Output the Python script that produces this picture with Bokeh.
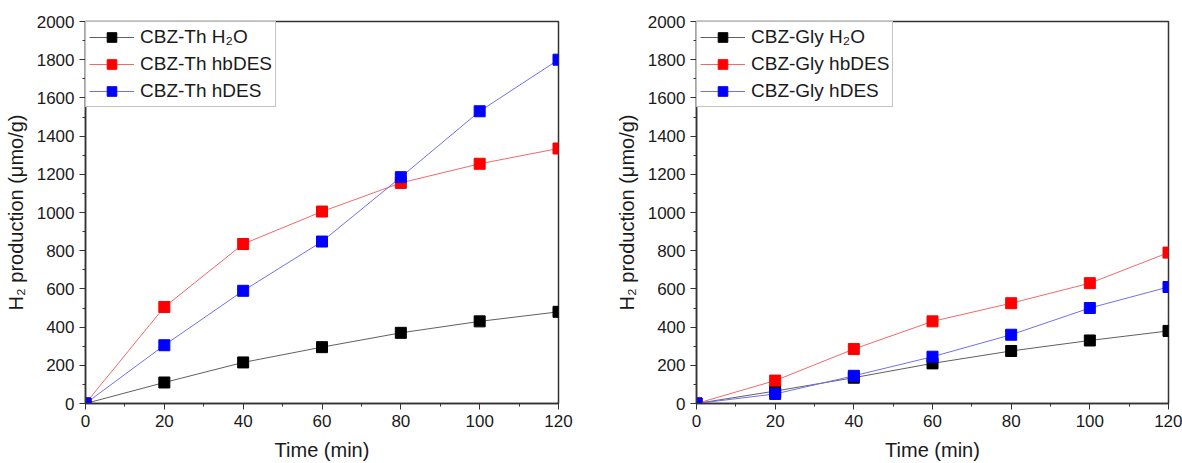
from bokeh.plotting import figure
from bokeh.layouts import row
from bokeh.models import SingleIntervalTicker, Range1d, Legend, LegendItem
from bokeh.embed import file_html
from bokeh.resources import INLINE

time = [0, 20, 40, 60, 80, 100, 120]

th_h2o = [0, 110, 215, 295, 370, 430, 480]
th_hbdes = [0, 505, 835, 1005, 1155, 1255, 1335]
th_hdes = [0, 305, 590, 848, 1185, 1530, 1800]

gly_h2o = [0, 65, 135, 210, 275, 330, 380]
gly_hbdes = [0, 120, 285, 430, 525, 630, 790]
gly_hdes = [0, 50, 145, 245, 360, 500, 610]

labels_th = ["CBZ-Th H\u2082O", "CBZ-Th hbDES", "CBZ-Th hDES"]
labels_gly = ["CBZ-Gly H\u2082O", "CBZ-Gly hbDES", "CBZ-Gly hDES"]

FONT = "Liberation Sans"
marker_colors = ["#000000", "#ff0000", "#0000ff"]
line_colors = ["#606060", "#f06a6a", "#7070f0"]


def make_panel(series, labels, border_left, border_right):
    p = figure(width=591, height=463, output_backend="svg", toolbar_location=None,
               x_range=Range1d(0, 120), y_range=Range1d(0, 2000),
               min_border_left=border_left, min_border_right=border_right,
               min_border_top=21, min_border_bottom=60)
    p.grid.visible = False
    p.outline_line_color = "#333333"
    p.outline_line_width = 1.5
    p.background_fill_color = "white"
    p.border_fill_color = "white"

    p.xaxis.ticker = SingleIntervalTicker(interval=20, num_minor_ticks=2)
    p.yaxis.ticker = SingleIntervalTicker(interval=200, num_minor_ticks=2)
    for ax in (p.xaxis[0], p.yaxis[0]):
        ax.major_tick_in = 0
        ax.major_tick_out = 6
        ax.minor_tick_in = 0
        ax.minor_tick_out = 3
        ax.axis_line_width = 1.5
        ax.axis_line_color = "#333333"
        ax.major_tick_line_color = "#333333"
        ax.minor_tick_line_color = "#333333"
        ax.major_label_text_font = FONT
        ax.major_label_text_font_size = "17px"
        ax.major_label_text_color = "#1a1a1a"
        ax.axis_label_text_font = FONT
        ax.axis_label_text_font_size = "20px"
        ax.axis_label_text_font_style = "normal"
        ax.axis_label_text_color = "#1a1a1a"
    p.xaxis.axis_label = "Time (min)"
    p.yaxis.axis_label = "H\u2082 production (\u03bcmo/g)"
    p.xaxis.axis_label_standoff = 9
    p.yaxis.axis_label_standoff = 7

    items = []
    for ys, lab, mc, lc in zip(series, labels, marker_colors, line_colors):
        l = p.line(time, ys, line_color=lc, line_width=1)
        s = p.scatter(time, ys, marker="square", size=11, fill_color=mc, line_color=mc)
        items.append(LegendItem(label=lab, renderers=[l, s]))

    legend = Legend(items=items, location="top_left")
    legend.label_text_font = FONT
    legend.label_text_font_size = "19px"
    legend.label_text_color = "#1a1a1a"
    legend.border_line_color = "#888888"
    legend.border_line_width = 1
    legend.margin = 0
    legend.padding = 3
    legend.spacing = 3
    legend.glyph_width = 45
    legend.glyph_height = 24
    legend.label_height = 24
    legend.label_standoff = 6
    p.add_layout(legend)
    return p


p1 = make_panel([th_h2o, th_hbdes, th_hdes], labels_th, 85, 33)
p2 = make_panel([gly_h2o, gly_hbdes, gly_hdes], labels_gly, 105, 14)

layout = row(p1, p2)
open("out.html", "w").write(file_html(layout, INLINE))
